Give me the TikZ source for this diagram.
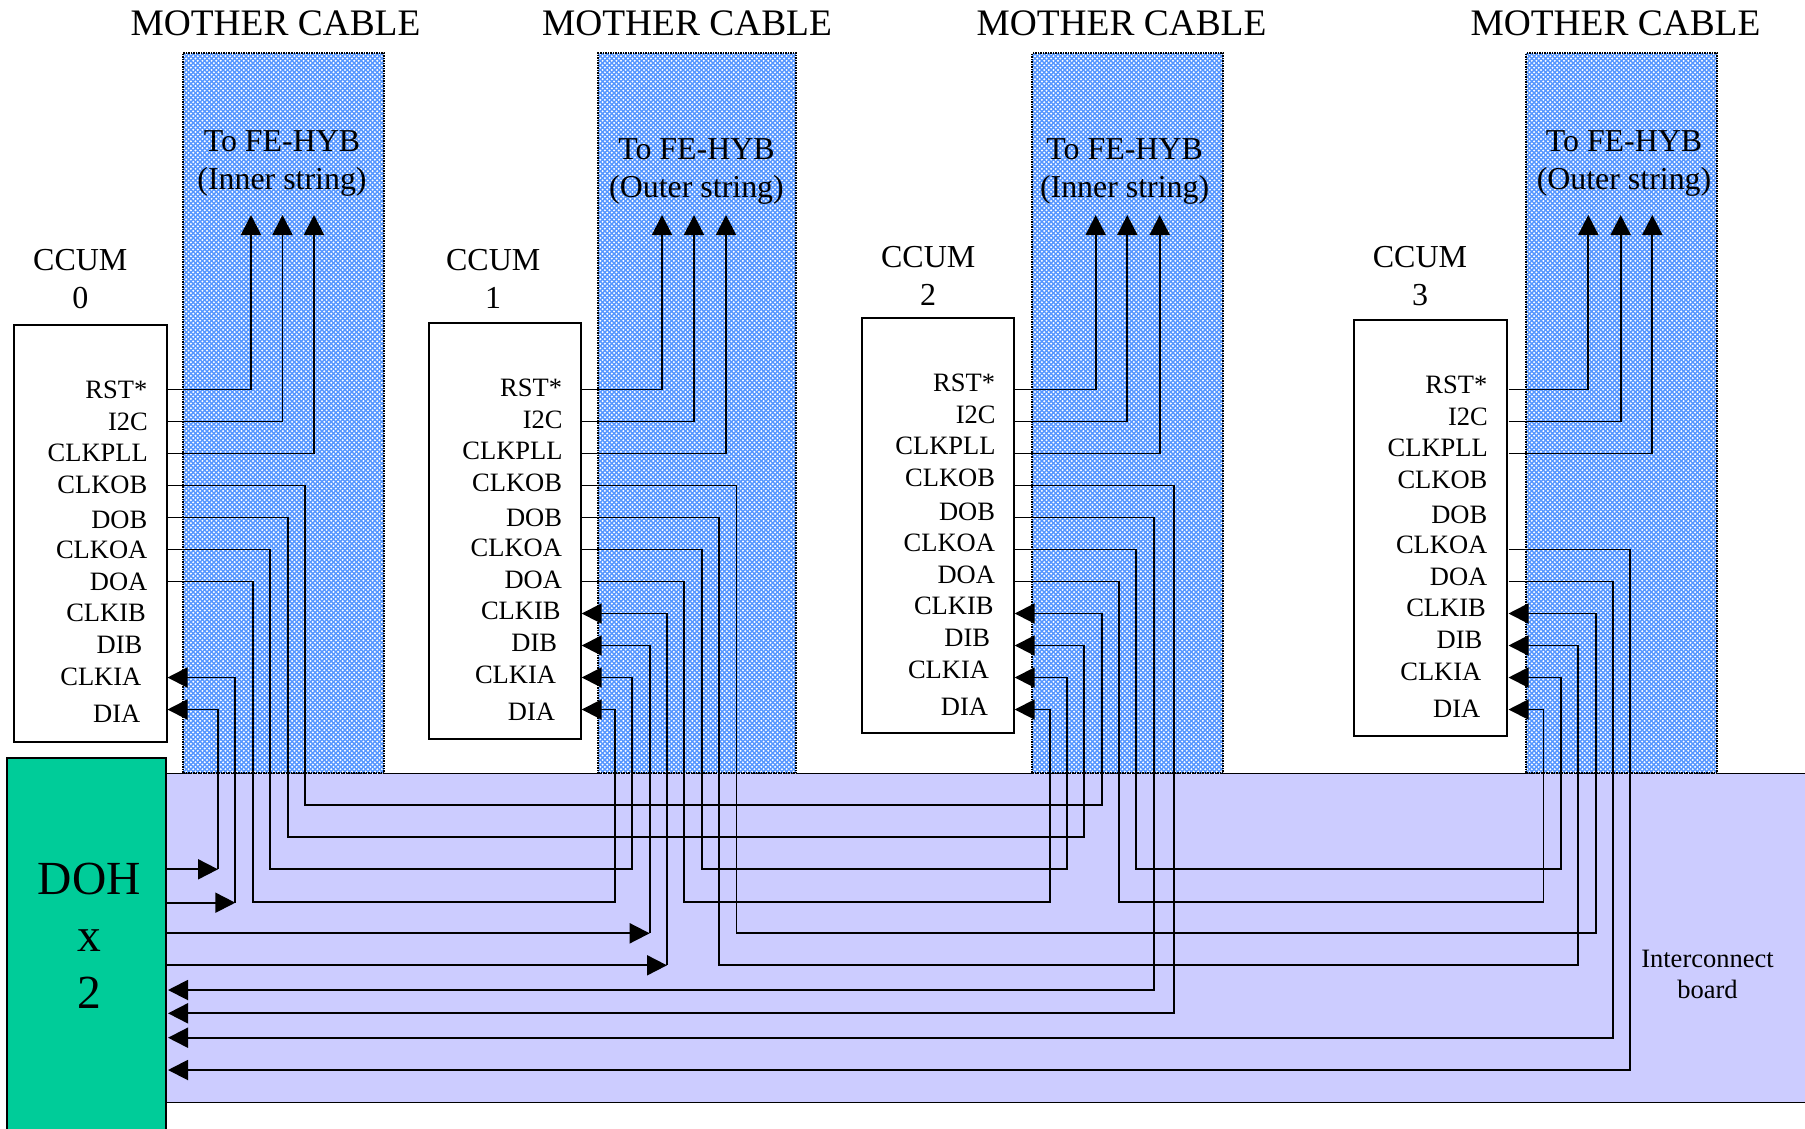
\documentclass[tikz,border=0pt]{standalone}
\usepackage{fontspec}
\setmainfont{Liberation Serif}
\usepackage{xcolor}
\usetikzlibrary{arrows.meta,patterns}
\definecolor{cableblue}{RGB}{85,150,255}
\definecolor{boardlilac}{RGB}{204,204,255}
\definecolor{dohgreen}{RGB}{0,204,153}
\pgfdeclarepatternformonly{cabledots}{\pgfqpoint{-1.5pt}{-1.5pt}}{\pgfqpoint{5.5pt}{5.5pt}}{\pgfqpoint{4.6pt}{4.6pt}}{%
  \pgfpathcircle{\pgfqpoint{0pt}{0pt}}{1.1pt}
  \pgfpathcircle{\pgfqpoint{2.3pt}{2.3pt}}{1.1pt}
  \pgfusepath{fill}}
\tikzset{
  cablebox/.style={rectangle, draw=black, line width=1.5pt, densely dotted, outer sep=0pt,
                   anchor=north west, minimum height=720pt,
                   preaction={fill=cableblue}, pattern=cabledots, pattern color=white},
  ccumbox/.style={rectangle, draw=black, line width=2pt, fill=white, outer sep=0pt,
                  anchor=north west, minimum width=152.5pt},
  wire/.style={line width=1.9pt, color=black},
  wirein/.style={wire, -{Triangle[length=20pt,width=20pt]}},
  pinlbl/.style={font=\fontsize{26.5}{30}\selectfont, inner sep=0pt, anchor=base east},
  cablelbl/.style={font=\fontsize{37.4}{42}\selectfont, inner sep=0pt, anchor=base},
  ccumlbl/.style={font=\fontsize{32}{38}\selectfont, inner sep=0pt, align=center},
  hyblbl/.style={font=\fontsize{31.9}{37.5}\selectfont, inner sep=0pt, align=center},
  boardlbl/.style={font=\fontsize{26.5}{31.5}\selectfont, inner sep=0pt, align=center},
}
\begin{document}
\begin{tikzpicture}[x=1pt,y=-1pt]
  \useasboundingbox (0,0) rectangle (1805,1128);
  % interconnect board and mother cables
  \node[rectangle, draw=black, line width=1.7pt, fill=boardlilac, anchor=north west, outer sep=0pt,
        minimum width=1660pt, minimum height=329pt] (board) at (166,773.5) {};
  \node[cablebox, minimum width=201pt] (mc0) at (183,53) {};
  \node[cablebox, minimum width=198pt] (mc1) at (598,53) {};
  \node[cablebox, minimum width=191pt] (mc2) at (1032,53) {};
  \node[cablebox, minimum width=191pt] (mc3) at (1526,53) {};
  \node[boardlbl] (boardtxt) at (1707.5,974.5) {Interconnect\\board};
  % DOH
  \node[rectangle, draw=black, line width=2pt, fill=dohgreen, anchor=north west, outer sep=0pt,
        minimum width=159pt, minimum height=400pt] (doh) at (7,757.5) {};
  \node[inner sep=0pt, align=center, font=\fontsize{47.5}{57}\selectfont] (dohtxt) at (89.3,936) {DOH\\x\\2};
  % cable titles
  \node[cablelbl] (title0) at (275.5,35.5) {MOTHER CABLE};
  \node[cablelbl] (title1) at (687,35.5) {MOTHER CABLE};
  \node[cablelbl] (title2) at (1121.5,35.5) {MOTHER CABLE};
  \node[cablelbl] (title3) at (1615.5,35.5) {MOTHER CABLE};
  \node[hyblbl] (hyb0) at (282,163.5) {To FE-HYB\\(Inner string)};
  \node[hyblbl] (hyb1) at (696.5,171.5) {To FE-HYB\\(Outer string)};
  \node[hyblbl] (hyb2) at (1124.6,171.5) {To FE-HYB\\(Inner string)};
  \node[hyblbl] (hyb3) at (1624,163.5) {To FE-HYB\\(Outer string)};
  \node[ccumlbl] (name0) at (80.3,279) {CCUM\\0};
  \node[ccumlbl] (name1) at (493.2,279) {CCUM\\1};
  \node[ccumlbl] (name2) at (928.2,276) {CCUM\\2};
  \node[ccumlbl] (name3) at (1420,276) {CCUM\\3};
  % CCUM boxes with their pins
  \foreach \n/\cx/\cy/\ch/\gap in {0/14/325/417/1, 1/428.7/323/416/0.5, 2/861.7/317.8/415/0.5, 3/1354/320/416/2} {
    \node[ccumbox, minimum height=\ch pt] (c\n) at (\cx,\cy) {};
    \foreach \pin/\lab/\dy/\rx [count=\idx from 0] in {rst/RST*/0/19.5, itc/I2C/32/19, pll/CLKPLL/63.3/19,
        clkob/CLKOB/95.3/19.5, dob/DOB/129.5/19.5, clkoa/CLKOA/160/19.5, doa/DOA/192/19.5,
        clkib/CLKIB/222.7/21, dib/DIB/254.7/24.5, clkia/CLKIA/287/25.5, dia/DIA/324/26.5} {
      \node[pinlbl] (lbl\n-\pin) at ({\cx+153-\rx},{\cy+73.5+\dy}) {\lab};
      \coordinate (c\n-\pin) at ({\cx+152.5+\gap},{389.5+32*\idx});
    }
  }
  % up to the FE hybrids
  \foreach \n/\xa/\xb/\xc in {0/251/282.5/314, 1/662/694/726, 2/1095.7/1127.3/1159.7, 3/1588.3/1620.7/1652.3} {
    \draw[wirein] (c\n-rst) -| (\xa,215);
    \draw[wirein] (c\n-itc) -| (\xb,215);
    \draw[wirein] (c\n-pll) -| (\xc,215);
  }
  % CCUM to CCUM
  \foreach \from/\dx/\by/\tx/\to in {c0-clkob/305/805/1102/c2-clkib, c0-dob/288/837.3/1084.3/c2-dib,
      c0-clkoa/270/869.3/632.3/c1-clkia, c0-doa/253/901.7/615/c1-dia,
      c1-clkob/736.5/933.3/1595.7/c3-clkib, c1-dob/719/965.3/1578/c3-dib,
      c1-clkoa/702/869.3/1067/c2-clkia, c1-doa/684.3/901.7/1049.7/c2-dia,
      c2-clkoa/1136.3/869.3/1560.7/c3-clkia, c2-doa/1119/901.7/1543.5/c3-dia} {
    \draw[wirein] (\from) -| (\dx,\by) -- (\tx,\by) |- (\to);
  }
  % CCUM back to DOH
  \foreach \from/\dx/\by in {c2-clkob/1174/1013.3, c2-dob/1153.7/990, c3-clkoa/1630.3/1070, c3-doa/1613/1037.7} {
    \draw[wirein] (\from) -| (\dx,\by) -- ([xshift=2pt]doh.east |- 0,\by);
  }
  % DOH out to CCUM
  \foreach \by/\dx/\to in {869.3/218/c0-dia, 902.7/235.3/c0-clkia, 933.3/649.7/c1-dib, 965.3/667/c1-clkib} {
    \draw[wirein] (doh.east |- 0,\by) -- (\dx,\by);
    \draw[wirein] (\dx,\by) |- (\to);
  }
\end{tikzpicture}
\end{document}
